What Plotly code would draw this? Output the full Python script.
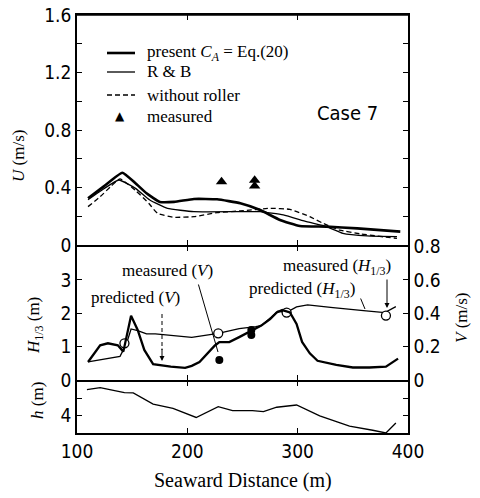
import plotly.graph_objects as go

# ---------------- data ----------------
# Top panel: U (m/s)
x_present = [110, 124, 141, 153, 163, 175, 188, 206, 227, 248, 266, 284, 302, 326, 354, 393]
u_present = [0.325, 0.406, 0.503, 0.43, 0.36, 0.30, 0.30, 0.32, 0.318, 0.29, 0.243, 0.174, 0.132, 0.128, 0.116, 0.093]

x_rb = [110, 124, 138, 153, 166, 182, 206, 248, 266, 287, 308, 326, 341, 363, 390]
u_rb = [0.315, 0.39, 0.452, 0.394, 0.313, 0.255, 0.232, 0.232, 0.232, 0.209, 0.162, 0.128, 0.081, 0.063, 0.058]

x_noroller = [110, 121, 131, 139, 153, 165, 173, 188, 206, 227, 248, 275, 293, 311, 323, 338, 357, 390]
u_noroller = [0.267, 0.336, 0.41, 0.46, 0.38, 0.29, 0.22, 0.193, 0.197, 0.225, 0.237, 0.255, 0.248, 0.197, 0.151, 0.104, 0.077, 0.046]

x_u_meas = [231, 261, 261]
u_meas = [0.44, 0.45, 0.41]

# Middle panel: V (m/s) predicted and H1/3 (m) predicted
x_v = [110, 121, 128, 137, 142, 149, 155, 161, 169, 185, 198, 204, 211, 225, 229, 238, 247, 259, 267, 275,
       281, 286, 293, 299, 304, 311, 318, 335, 350, 365, 380, 391]
v_pred = [0.108, 0.208, 0.22, 0.208, 0.17, 0.385, 0.30, 0.18, 0.095, 0.08, 0.073, 0.085, 0.108, 0.207, 0.227,
          0.227, 0.257, 0.296, 0.326, 0.365, 0.405, 0.419, 0.405, 0.336, 0.228, 0.16, 0.115, 0.09, 0.075, 0.075,
          0.08, 0.128]

x_h13 = [110, 139, 145, 149, 155, 163, 171, 190, 204, 228, 247, 262, 267, 276, 282, 290, 299, 309, 320, 332,
         362, 379, 389]
h13_pred = [0.54, 0.71, 1.1, 1.53, 1.48, 1.38, 1.38, 1.33, 1.28, 1.40, 1.54, 1.60, 1.63, 1.88, 2.06, 2.03, 2.19,
            2.25, 2.22, 2.17, 2.07, 2.02, 2.2]

x_h13_meas = [143, 228, 290, 380]
h13_meas = [1.1, 1.40, 2.02, 1.93]

x_v_meas = [229, 258, 258]
v_meas = [0.12, 0.27, 0.30]

# Bottom panel: depth h (m)
x_depth = [109, 121, 133, 143, 151, 169, 187, 208, 228, 241, 259, 269, 281, 299, 320, 347, 368, 380, 389]
depth = [0.95, 0.72, 1.03, 1.3, 1.33, 2.63, 3.12, 4.19, 2.93, 3.39, 3.39, 3.5, 3.0, 2.74, 4.0, 5.2, 5.68, 6.0, 4.84]

x_ticks = [100, 200, 300, 400]
u_ticks = [0, 0.2, 0.4, 0.6, 0.8, 1.0, 1.2, 1.4, 1.6]
u_ticktext = ["0", "", "0.4", "", "0.8", "", "1.2", "", "1.6"]
h13_ticks = [0, 1, 2, 3, 4]
h13_ticktext = ["0", "1", "2", "3", ""]
v_ticks = [0, 0.2, 0.4, 0.6, 0.8]
v_ticktext = ["0", "0.2", "0.4", "0.6", "0.8"]
depth_ticks = [0, 2, 4]
depth_ticktext = ["", "", "4"]

legend_names = ["present <i>C<sub>A</sub></i> = Eq.(20)", "R &amp; B", "without roller", "measured"]

# ---------------- layout helpers ----------------
OFF = 8                      # page body margin of the browser
W, H = 480 - OFF, 498 - OFF
ML, MR, MT, MB = 77 - OFF, 72, 15 - OFF, 65
PW, PH = W - ML - MR, H - MT - MB


def P(px, py):
    """reference-pixel position -> paper coordinates"""
    fx, fy = px - OFF, py - OFF
    return (fx - ML) / PW, (H - MB - fy) / PH


def dom(py_top, py_bot):
    return [P(0, py_bot)[1], P(0, py_top)[1]]


SANS = "Liberation Sans Narrow, DejaVu Sans Condensed, Arial Narrow, Liberation Sans, Arial"
SERIF = "Liberation Serif, Times New Roman, DejaVu Serif"
BLACK = "black"
LW = 1.5

fig = go.Figure()

# top panel
fig.add_trace(go.Scatter(x=x_present, y=u_present, mode="lines", xaxis="x2", yaxis="y",
                         line=dict(color=BLACK, width=2.6, shape="spline", smoothing=0.4),
                         name=legend_names[0], showlegend=False))
fig.add_trace(go.Scatter(x=x_rb, y=u_rb, mode="lines", xaxis="x2", yaxis="y",
                         line=dict(color=BLACK, width=1.3, shape="spline", smoothing=0.4),
                         name=legend_names[1], showlegend=False))
fig.add_trace(go.Scatter(x=x_noroller, y=u_noroller, mode="lines", xaxis="x2", yaxis="y",
                         line=dict(color=BLACK, width=1.3, dash="5px,3px", shape="spline", smoothing=0.4),
                         name=legend_names[2], showlegend=False))
fig.add_trace(go.Scatter(x=x_u_meas, y=u_meas, mode="markers", xaxis="x2", yaxis="y",
                         marker=dict(symbol="triangle-up", size=10, color=BLACK),
                         name=legend_names[3], showlegend=False))

# middle panel
fig.add_trace(go.Scatter(x=x_v, y=v_pred, mode="lines", xaxis="x3", yaxis="y3",
                         line=dict(color=BLACK, width=2.3), showlegend=False))
fig.add_trace(go.Scatter(x=x_h13, y=h13_pred, mode="lines", xaxis="x3", yaxis="y2",
                         line=dict(color=BLACK, width=1.3), showlegend=False))
fig.add_trace(go.Scatter(x=x_v_meas, y=v_meas, mode="markers", xaxis="x3", yaxis="y3",
                         marker=dict(symbol="circle", size=8, color=BLACK), showlegend=False))
fig.add_trace(go.Scatter(x=x_h13_meas, y=h13_meas, mode="markers", xaxis="x3", yaxis="y2",
                         marker=dict(symbol="circle", size=9, color="white",
                                     line=dict(color=BLACK, width=1.3)), showlegend=False))

# bottom panel
fig.add_trace(go.Scatter(x=x_depth, y=depth, mode="lines", xaxis="x", yaxis="y4",
                         line=dict(color=BLACK, width=1.3), showlegend=False))

tickfont = dict(family=SANS, size=19, color=BLACK)
axis_common = dict(showline=True, linecolor=BLACK, linewidth=LW, ticks="inside", ticklen=5,
                   tickwidth=1.2, tickcolor=BLACK, showgrid=False, zeroline=False, tickfont=tickfont,
                   automargin=False, ticklabeloverflow="allow")

xcommon = dict(axis_common, range=[100, 400], tickvals=x_ticks, mirror="ticks", domain=[0, 1])

top_dom = dom(15, 245)
mid_dom = dom(245 + LW, 380)
bot_dom = dom(380 + LW, 433)

fig.update_layout(
    width=W, height=H,
    margin=dict(l=ML, r=MR, t=MT, b=MB, autoexpand=False),
    paper_bgcolor="white", plot_bgcolor="white",
    showlegend=False,
    xaxis=dict(xcommon, anchor="y4", ticktext=[str(v) for v in x_ticks]),
    xaxis2=dict(xcommon, anchor="y", matches="x", showticklabels=False),
    xaxis3=dict(xcommon, anchor="y2", matches="x", showticklabels=False),
    yaxis=dict(axis_common, domain=top_dom, anchor="x2", range=[0, 1.6], tickvals=u_ticks,
               ticktext=u_ticktext, mirror="ticks"),
    yaxis2=dict(axis_common, domain=mid_dom, anchor="x3", range=[0, 4], tickvals=h13_ticks,
                ticktext=h13_ticktext, mirror=True),
    yaxis3=dict(axis_common, domain=mid_dom, anchor="x3", overlaying="y2", side="right",
                range=[0, 0.8], tickvals=v_ticks, ticktext=v_ticktext),
    yaxis4=dict(axis_common, domain=bot_dom, anchor="x", range=[6, 0], tickvals=depth_ticks,
                ticktext=depth_ticktext, mirror="ticks"),
)

annotations = []
shapes = []


def text_ann(px, py, text, size=17, family=SERIF, angle=0, xanchor="center"):
    x, y = P(px, py)
    annotations.append(dict(x=x, y=y, xref="paper", yref="paper", text=text, showarrow=False,
                            textangle=angle, xanchor=xanchor, yanchor="middle",
                            font=dict(family=family, size=size, color=BLACK)))


def arrow_ann(px0, py0, px1, py1, head=2):
    x, y = P(px1, py1)
    annotations.append(dict(x=x, y=y, xref="paper", yref="paper", text="", showarrow=True,
                            ax=px0 - px1, ay=py0 - py1, axref="pixel", ayref="pixel",
                            arrowhead=head, arrowsize=1, arrowwidth=1, arrowcolor=BLACK))


def seg(px0, py0, px1, py1, width=1.3, dash="solid"):
    x0, y0 = P(px0, py0)
    x1, y1 = P(px1, py1)
    shapes.append(dict(type="line", xref="paper", yref="paper", x0=x0, y0=y0, x1=x1, y1=y1,
                       line=dict(color=BLACK, width=width, dash=dash)))


# top frame edge of the upper panel (drawn explicitly so it is never lost at the page edge)
seg(77, 15, 408, 15, width=LW)

# axis titles
text_ann(18, 156, "<i>U</i> (m/s)", size=17, angle=-90)
text_ann(35, 326, "<i>H</i><sub>1/3</sub> (m)", size=17, angle=-90)
text_ann(37, 401, "<i>h</i> (m)", size=17, angle=-90)
text_ann(461, 318, "<i>V</i> (m/s)", size=17, angle=-90)
text_ann(243, 480, "Seaward Distance (m)", size=20)

# case label
text_ann(347, 113, "Case 7", size=20, family=SANS)

# legend (drawn by hand so the row spacing matches)
leg_rows = [53, 72, 95, 116]
seg(107, leg_rows[0], 135, leg_rows[0], width=2.6)
seg(107, leg_rows[1], 135, leg_rows[1], width=1.3)
seg(107, leg_rows[2], 135, leg_rows[2], width=1.3, dash="5px,3px")
tx, ty = P(120, leg_rows[3])
annotations.append(dict(x=tx, y=ty, xref="paper", yref="paper", text="\u25b2", showarrow=False,
                        xanchor="center", yanchor="middle", font=dict(family="DejaVu Sans", size=12, color=BLACK)))
for name, row in zip(legend_names, leg_rows):
    text_ann(145, row, name, size=17, xanchor="left")

# middle panel labels
text_ann(167, 270, "measured (<i>V</i>)", size=17)
arrow_ann(198, 283, 218, 352, head=0)
text_ann(135, 297, "predicted (<i>V</i>)", size=17)
seg(162, 314, 162, 350, width=1, dash="4px,3px")
arrow_ann(162, 347, 162, 361, head=2)
text_ann(337, 267, "measured (<i>H</i><sub>1/3</sub>)", size=17)
arrow_ann(387, 278, 387, 308, head=2)
text_ann(302, 290, "predicted (<i>H</i><sub>1/3</sub>)", size=17)
arrow_ann(360, 297, 365, 309, head=0)

fig.update_layout(annotations=annotations, shapes=shapes)

fig.write_html("out.html")
